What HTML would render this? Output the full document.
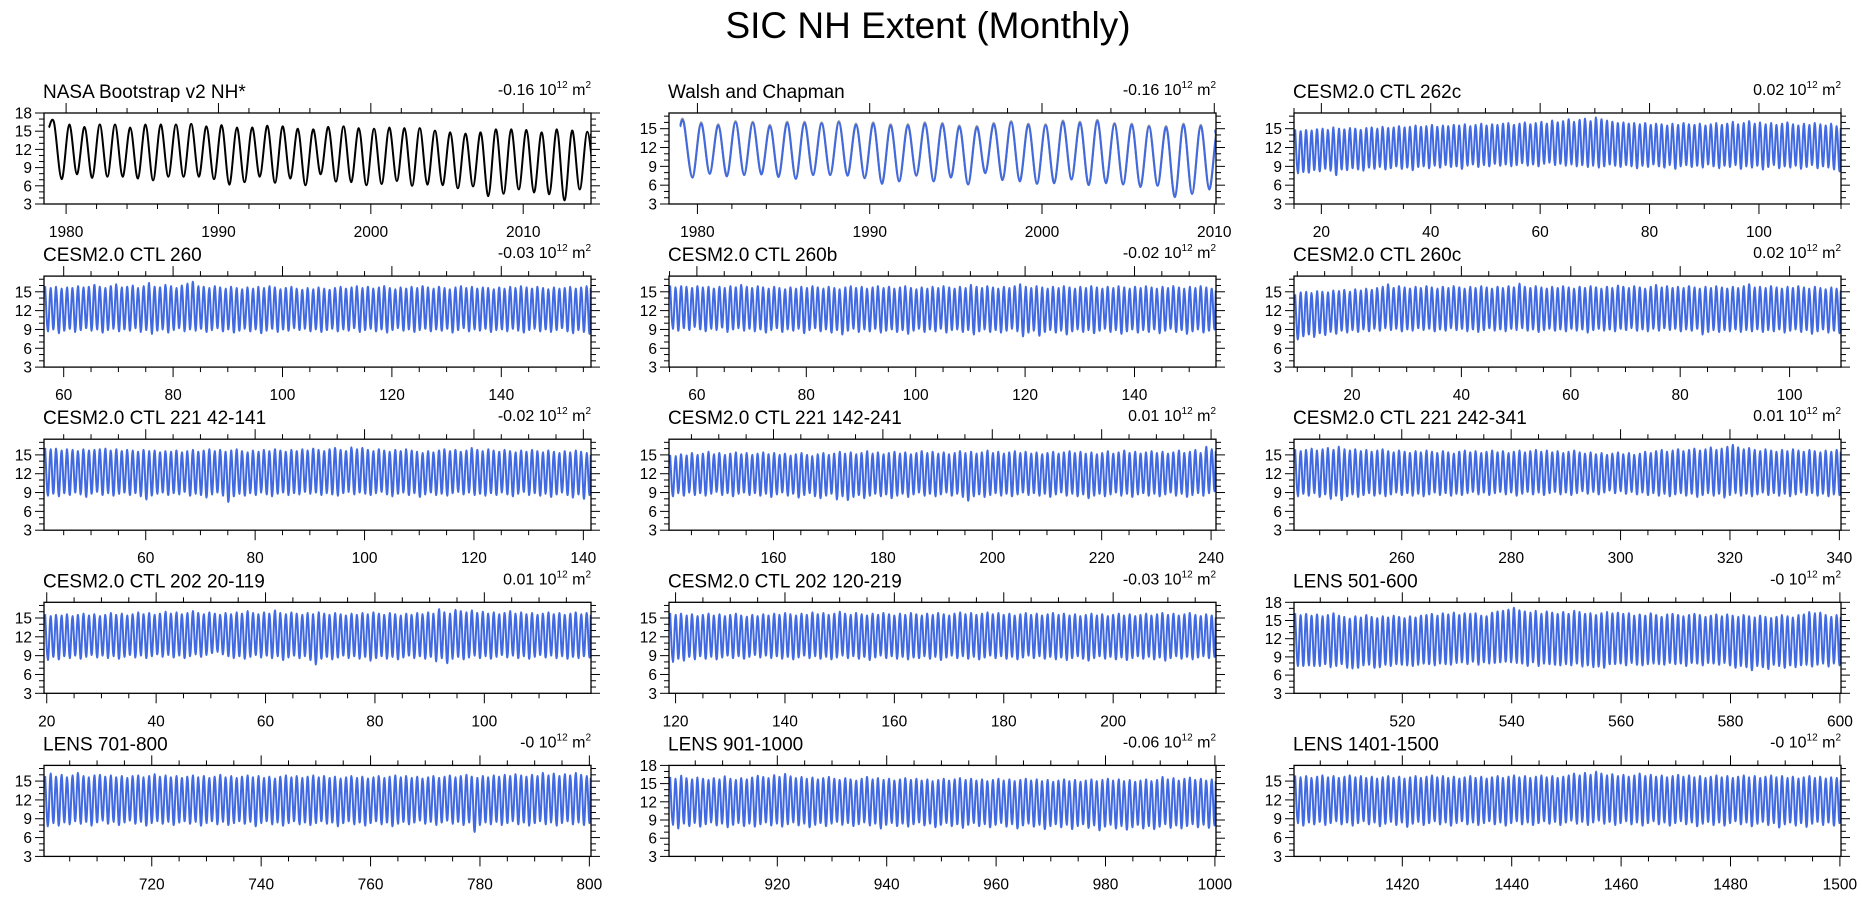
<!DOCTYPE html>
<html><head><meta charset="utf-8"><title>SIC NH Extent (Monthly)</title>
<style>
html,body{margin:0;padding:0;background:#fff;}
svg{display:block;font-family:"Liberation Sans",Arial,sans-serif;}
</style></head>
<body>
<svg id="chart" width="1862" height="897" viewBox="0 0 1862 897" xmlns="http://www.w3.org/2000/svg">
<rect x="0" y="0" width="1862" height="897" fill="#fff"/>
<text x="928" y="38" text-anchor="middle" font-size="37" fill="#000">SIC NH Extent (Monthly)</text>
</svg>
<script>
// ---- Observations ----
const nasaYears = [1979,1980,1981,1982,1983,1984,1985,1986,1987,1988,1989,1990,1991,1992,1993,1994,1995,1996,1997,1998,1999,2000,2001,2002,2003,2004,2005,2006,2007,2008,2009,2010,2011,2012,2013,2014];
const nasaMax = [16.4,16.1,15.7,16.1,16.1,15.6,16.1,16.1,16.1,16.2,15.8,16.0,15.6,15.6,15.9,15.8,15.4,15.3,15.7,15.8,15.5,15.4,15.6,15.5,15.5,15.1,14.8,14.6,14.8,15.3,15.3,15.2,14.8,15.3,15.1,14.9];
const nasaMin = [7.1,7.9,7.3,7.5,7.5,7.2,6.9,7.5,7.5,7.5,7.1,6.2,6.6,7.5,6.5,7.2,6.1,7.9,6.7,6.6,6.1,6.3,6.8,6.0,6.2,6.1,5.6,5.9,4.3,4.7,5.4,4.9,4.6,3.6,5.4,5.3];
const wcYears = [1979,1980,1981,1982,1983,1984,1985,1986,1987,1988,1989,1990,1991,1992,1993,1994,1995,1996,1997,1998,1999,2000,2001,2002,2003,2004,2005,2006,2007,2008,2009,2010];
const wcMax = [15.9,15.8,15.5,16.0,15.9,15.4,15.9,15.9,15.8,16.0,15.6,15.8,15.5,15.5,15.8,15.7,15.3,15.2,15.7,16.0,15.6,15.5,16.1,15.9,16.2,15.7,15.6,15.3,15.2,15.6,15.4,15.0];
const wcMin = [7.2,7.8,7.4,7.6,7.7,7.3,7.0,7.6,7.6,7.5,7.1,6.2,6.6,7.5,6.6,7.2,6.1,7.9,6.8,6.6,6.2,6.3,6.9,6.0,6.3,6.1,5.7,5.9,4.1,4.6,5.3,4.8];
// ---- Model panels: annual max (March) and min (September), 100 years each ----
const c262cMax=[14.9,14.6,14.8,14.7,14.9,15.0,14.8,15.2,15.0,14.9,15.1,15.0,14.8,15.1,15.2,15.0,15.3,15.1,15.2,15.4,15.2,15.3,15.5,15.3,15.4,15.6,15.3,15.5,15.4,15.6,15.5,15.7,15.4,15.6,15.8,15.5,15.7,15.6,15.8,15.9,15.6,15.8,16.0,15.7,15.9,16.1,15.8,16.3,16.0,16.2,16.5,16.1,16.4,16.6,16.2,16.8,16.5,16.3,16.1,15.9,16.0,15.8,15.9,15.7,15.9,15.6,15.8,15.7,15.5,15.8,15.6,15.9,15.7,15.6,15.8,15.5,15.7,15.9,15.6,15.8,16.1,15.7,15.9,16.2,15.8,16.0,15.7,15.9,15.6,15.8,16.0,15.7,15.5,15.8,15.6,15.9,15.7,15.5,15.8,15.4];
const c262cMin=[7.9,8.1,8.0,8.4,8.2,8.6,8.3,7.6,8.5,8.4,8.7,8.5,8.3,8.8,8.6,8.9,8.5,8.7,9.0,8.6,8.8,8.4,8.9,9.0,8.7,9.1,8.8,9.2,8.9,9.0,8.6,9.1,9.3,8.9,9.2,9.0,9.4,9.1,9.3,9.0,9.2,9.5,9.1,9.3,9.0,9.4,9.6,9.2,9.4,9.1,9.3,9.0,9.2,8.9,9.1,8.8,9.0,9.3,9.1,8.9,9.2,9.0,8.7,9.1,8.9,9.3,9.0,8.8,9.2,8.6,9.0,9.2,8.9,9.1,8.8,9.3,9.0,8.7,9.1,8.9,9.2,8.6,9.0,8.8,9.1,8.5,8.9,9.2,8.7,9.0,8.8,9.1,8.6,8.9,9.2,8.7,9.0,8.8,8.5,8.2];
const c260Max=[15.9,15.6,15.8,15.5,15.7,15.6,15.9,15.7,15.8,16.1,15.8,15.6,15.9,16.2,15.7,15.8,16.0,15.6,15.9,16.4,15.8,15.7,16.1,15.9,15.6,16.0,16.3,16.6,15.9,15.8,15.6,15.9,15.7,15.5,15.8,15.6,15.4,15.7,15.5,15.8,15.6,15.9,15.7,15.4,15.6,15.8,15.5,15.3,15.6,15.4,15.7,15.5,15.3,15.6,15.8,15.5,15.7,15.9,15.6,15.8,15.5,15.7,15.9,15.6,15.4,15.7,15.5,15.8,15.6,15.9,15.7,15.5,15.8,15.6,15.4,15.7,15.9,15.6,15.8,15.5,15.7,15.6,15.4,15.7,15.5,15.8,15.6,15.9,15.7,15.5,15.8,15.6,15.4,15.7,15.5,15.6,15.8,15.5,15.7,15.9];
const c260Min=[8.7,9.0,8.4,8.8,9.1,8.6,8.9,9.2,8.8,9.0,8.5,8.9,9.1,8.7,9.0,8.8,9.2,8.6,8.9,8.3,8.8,9.0,8.5,8.9,9.2,8.7,9.0,8.8,9.1,8.6,8.9,9.2,8.7,9.0,8.5,8.8,9.1,8.7,9.0,8.4,8.8,9.1,8.6,9.0,8.8,9.2,8.9,9.1,8.7,9.0,8.6,8.9,9.1,8.7,9.0,8.8,9.2,8.6,8.9,9.1,8.7,9.0,8.5,8.9,9.2,8.8,9.0,8.6,8.9,9.1,8.7,9.0,8.8,9.1,8.5,8.9,9.2,8.7,9.0,8.8,9.1,8.6,8.9,9.0,8.7,9.1,8.8,8.5,8.9,9.1,8.7,9.0,8.6,8.9,9.2,8.7,8.4,8.9,8.6,8.3];
const c260bMax=[16.0,15.7,15.9,15.8,15.6,15.9,15.7,15.8,15.5,15.8,15.6,15.9,15.7,16.1,15.8,15.6,15.9,15.7,15.5,15.8,15.6,15.4,15.7,15.5,15.8,15.6,15.9,15.7,15.5,15.8,15.6,15.4,15.7,15.9,15.6,15.8,15.5,15.7,15.9,15.6,15.8,15.5,15.7,15.9,15.6,15.4,15.7,15.5,15.8,15.6,15.9,15.7,15.5,15.8,15.6,16.1,15.8,15.6,15.9,15.7,15.5,15.8,15.6,15.9,16.2,15.8,15.6,15.9,15.7,15.5,15.8,15.6,15.9,15.7,15.5,15.8,15.6,15.9,15.7,15.5,15.8,15.6,15.9,15.7,15.5,15.8,15.6,15.9,15.7,15.5,15.8,15.6,15.9,15.7,15.5,15.8,15.6,15.9,15.7,15.5];
const c260bMin=[9.1,8.8,9.2,8.9,9.4,9.0,8.7,9.1,8.9,9.3,8.6,9.0,9.2,8.8,9.1,8.7,9.0,8.5,8.9,9.2,8.6,9.0,8.8,9.1,8.4,8.9,9.2,8.7,9.0,8.5,8.9,8.2,8.8,9.1,8.6,9.0,8.7,9.1,8.5,8.8,9.0,8.6,8.9,8.3,8.8,9.1,8.6,9.0,8.7,9.1,8.5,8.9,9.0,8.6,8.9,8.2,8.7,9.0,8.6,8.9,8.5,8.8,9.1,8.7,7.9,8.5,8.8,8.0,8.6,8.9,8.5,8.8,8.2,8.7,9.0,8.6,8.9,8.4,8.8,9.1,8.6,8.9,8.3,8.7,9.0,8.5,8.9,8.6,9.0,8.4,8.8,9.1,8.6,8.9,8.3,8.7,9.0,8.5,8.8,9.0];
const c260cMax=[14.6,14.9,15.0,14.8,15.1,15.0,14.9,15.2,15.1,15.3,15.0,15.4,15.2,15.5,15.3,15.6,15.8,16.2,15.6,15.9,15.7,15.5,15.8,15.6,15.9,15.7,15.5,15.8,15.6,15.9,15.7,15.5,15.8,15.6,15.9,15.7,15.5,15.8,15.6,15.9,15.7,16.3,15.8,15.6,15.9,15.7,15.5,15.8,15.6,15.9,15.7,15.5,15.8,15.6,15.9,15.7,15.5,15.8,15.6,16.0,15.8,15.6,15.9,15.7,15.5,15.8,16.1,15.7,15.9,15.6,15.8,15.6,15.9,15.7,15.5,15.8,15.6,15.9,15.7,15.5,15.8,15.6,15.9,16.2,15.7,15.8,15.6,15.9,15.7,15.5,15.8,15.6,15.9,15.7,15.5,15.8,15.6,15.4,15.7,15.5];
const c260cMin=[7.4,7.9,8.2,7.8,8.4,8.1,8.6,8.3,8.8,8.5,8.9,8.6,9.0,8.7,9.1,8.8,9.2,8.9,9.1,8.7,9.0,8.8,9.2,8.9,9.1,8.7,9.0,8.8,9.2,8.9,9.1,8.7,9.0,8.6,8.9,9.2,8.8,9.0,8.7,9.1,8.9,9.2,8.8,9.0,8.6,8.9,9.1,8.8,9.0,8.7,9.1,8.8,9.0,8.5,8.9,9.1,8.8,9.0,8.7,9.1,8.9,9.2,8.8,9.0,8.7,9.1,8.8,9.2,8.9,9.1,8.7,9.0,8.8,9.1,8.2,8.6,8.9,8.6,8.9,8.7,9.0,8.6,8.9,8.7,9.0,8.6,8.9,8.7,9.0,8.5,8.8,9.0,8.6,8.9,8.3,8.7,9.0,8.5,8.8,8.4];
const c221aMax=[16.1,15.9,16.0,15.7,15.9,15.8,15.6,15.9,15.7,15.8,15.9,16.0,15.7,15.9,15.6,15.8,15.7,15.5,15.8,15.6,15.7,15.4,15.6,15.5,15.7,15.4,15.6,15.8,15.5,15.7,15.9,15.6,15.8,15.5,15.7,15.9,15.6,15.4,15.7,15.5,15.8,15.6,15.9,15.7,15.5,15.8,15.6,15.9,15.7,16.0,15.8,15.6,15.9,16.1,15.8,15.6,16.2,15.9,16.1,15.8,15.6,15.9,15.7,15.5,15.8,15.6,15.9,15.7,15.5,15.3,15.6,15.4,15.7,15.9,15.6,15.8,15.5,15.7,16.1,15.8,15.6,15.9,15.7,15.5,15.8,15.6,15.4,15.7,15.5,15.8,15.6,15.4,15.7,15.5,15.3,15.6,15.4,15.7,15.5,15.3];
const c221aMin=[8.5,8.8,8.4,8.9,8.6,9.0,8.7,8.3,8.8,9.1,8.6,8.9,8.5,8.8,9.0,8.6,8.9,8.4,7.9,8.5,8.8,9.0,8.6,8.9,8.7,9.1,8.5,8.8,8.6,8.2,8.7,9.0,8.5,7.5,8.4,8.8,8.5,8.9,8.6,9.0,8.7,8.4,8.8,9.0,8.6,8.9,8.7,9.1,8.8,9.0,8.6,8.9,8.7,8.5,8.9,9.1,8.7,9.0,8.8,8.6,8.9,9.1,8.7,8.4,8.8,9.0,8.6,8.9,8.3,8.7,9.0,8.6,8.8,8.5,8.9,9.1,8.7,9.0,8.6,8.8,8.5,8.9,8.6,9.0,8.7,8.4,8.8,9.1,8.6,8.9,8.5,8.8,8.3,8.7,9.0,8.6,8.2,8.7,8.0,8.6];
const c221bMax=[15.0,14.8,15.1,14.9,15.3,15.0,15.2,15.5,15.1,15.3,15.0,15.2,15.4,15.1,15.3,15.0,15.2,15.4,15.1,15.3,15.0,15.2,14.9,15.1,15.3,15.0,14.8,15.1,15.3,15.0,15.2,15.5,15.2,15.4,15.1,15.3,15.6,15.2,15.4,15.1,15.3,15.5,15.2,15.4,15.1,15.3,15.6,15.3,15.5,15.2,15.4,15.1,15.3,15.6,15.3,15.5,15.2,15.4,15.7,15.3,15.5,15.2,15.4,15.6,15.3,15.5,15.2,15.4,15.1,15.3,15.5,15.2,15.4,15.6,15.3,15.5,15.2,15.4,15.1,15.3,15.6,15.2,15.4,15.7,15.3,15.5,15.2,15.4,15.6,15.3,15.5,15.2,15.4,15.7,15.3,15.5,15.8,15.3,16.3,15.9];
const c221bMin=[8.4,8.9,8.5,9.0,8.6,8.9,8.5,8.8,9.1,8.6,8.9,8.4,8.8,9.0,8.6,8.9,8.5,8.8,8.3,8.7,9.0,8.5,8.8,8.2,8.6,8.9,8.4,8.1,8.5,8.8,7.9,8.4,7.8,8.3,8.6,8.1,8.5,8.8,8.4,8.7,8.1,8.5,8.8,8.3,8.7,9.0,8.5,8.8,8.4,8.7,9.0,8.5,8.8,8.3,7.7,8.4,8.7,8.3,8.6,8.9,8.5,8.8,8.4,8.7,9.0,8.6,8.9,8.5,8.8,8.3,8.7,9.0,8.5,8.8,8.4,8.7,8.1,8.5,8.8,8.4,8.7,9.0,8.5,8.8,8.3,8.7,8.9,8.5,8.8,8.4,8.7,9.0,8.5,8.8,8.3,8.6,8.9,8.5,8.9,9.2];
const c221cMax=[15.9,15.6,15.8,16.0,15.7,15.9,16.1,15.8,16.3,15.9,15.7,15.9,15.6,15.8,15.5,15.7,15.9,15.6,15.4,15.7,15.5,15.3,15.6,15.4,15.7,15.5,15.3,15.6,15.4,15.2,15.5,15.7,15.4,15.6,15.3,15.5,15.7,15.4,15.6,15.3,15.5,15.7,15.4,15.6,15.8,15.5,15.7,15.4,15.6,15.3,15.5,15.7,15.4,15.2,15.4,15.1,15.3,15.0,15.2,15.4,15.1,15.3,15.0,15.2,15.5,15.3,15.6,15.8,15.5,15.7,15.9,15.6,15.8,16.0,15.7,15.9,16.2,15.8,16.0,16.3,16.6,16.2,15.9,16.1,15.8,15.6,15.9,15.7,15.5,15.8,15.6,15.9,15.7,15.5,15.8,15.6,15.4,15.7,15.5,15.8];
const c221cMin=[8.4,8.8,8.5,8.9,8.3,8.7,8.0,8.5,7.8,8.4,8.7,8.3,8.6,8.9,8.5,8.8,8.4,8.7,9.0,8.6,8.9,8.5,8.8,8.4,8.7,9.0,8.6,8.9,8.5,8.8,8.6,8.9,9.1,8.7,9.0,8.6,8.9,9.1,8.7,9.0,8.5,8.8,9.1,8.7,9.0,8.6,8.9,9.1,8.7,9.0,8.6,8.9,9.2,8.8,9.1,8.7,9.0,9.3,8.9,9.2,8.8,9.1,8.7,9.0,8.6,8.9,8.5,8.8,8.4,8.7,8.9,8.5,8.8,8.3,8.6,8.9,8.5,8.8,8.2,8.6,8.9,8.5,8.8,8.4,8.7,9.0,8.6,8.9,8.5,8.8,8.4,8.7,9.0,8.6,8.9,8.5,8.8,8.4,8.7,8.6];
const c202aMax=[15.6,15.3,15.5,15.4,15.6,15.3,15.5,15.7,15.4,15.6,15.3,15.5,15.8,15.5,15.7,15.4,15.6,15.9,15.6,15.8,15.5,15.7,16.0,15.7,15.9,15.6,15.8,16.1,15.8,15.6,15.9,15.7,15.5,15.8,15.6,15.9,15.7,16.1,15.8,15.6,15.9,15.7,16.2,15.8,15.6,15.9,15.7,15.5,15.8,15.6,15.9,15.7,15.5,15.8,15.6,15.4,15.7,15.5,15.8,15.6,15.9,15.7,15.5,15.8,15.6,15.4,15.7,15.5,15.8,15.6,15.9,15.7,16.4,15.9,15.7,16.3,16.1,15.9,16.2,15.8,16.0,15.7,15.9,15.6,15.8,16.1,15.7,15.9,15.6,15.8,15.5,15.7,15.9,15.6,15.8,15.5,15.7,15.9,15.6,15.8];
const c202aMin=[8.3,8.8,8.4,8.9,8.6,9.0,8.5,8.8,9.1,8.7,9.0,8.6,8.9,8.5,8.8,9.1,8.7,9.0,8.6,8.9,9.2,8.8,9.1,8.7,9.0,8.6,8.9,9.2,8.8,9.1,9.4,9.6,9.2,8.9,8.6,8.9,8.5,8.8,9.1,8.7,9.0,8.6,8.9,8.3,8.7,9.0,8.6,8.9,8.3,7.6,8.5,8.8,8.4,8.7,9.0,8.6,8.9,8.5,8.8,8.2,8.6,8.9,8.5,8.8,8.4,8.7,9.0,8.6,8.9,8.5,8.8,8.1,8.6,7.8,8.5,8.8,8.4,8.7,9.0,8.6,8.9,8.5,8.8,9.1,8.7,9.0,8.6,8.9,8.5,8.8,9.1,8.7,9.0,8.6,8.9,8.5,8.8,8.6,8.9,8.7];
const c202bMax=[15.8,15.5,15.7,15.4,15.6,15.3,15.5,15.7,15.4,15.6,15.3,15.5,15.7,15.4,15.2,15.5,15.3,15.6,15.4,15.7,15.5,15.8,15.6,15.4,15.7,15.5,15.9,15.6,15.8,15.5,15.7,16.0,15.7,15.5,15.8,15.6,15.4,15.7,15.5,15.8,15.6,15.4,15.7,15.5,15.8,15.6,15.4,15.7,15.5,15.8,15.6,15.4,15.7,15.9,15.6,15.8,15.5,15.7,15.9,15.6,15.8,15.5,15.7,15.4,15.6,15.8,15.5,15.7,15.4,15.6,15.8,15.5,15.7,15.4,15.6,15.3,15.5,15.7,15.4,15.6,15.3,15.5,15.7,15.4,15.6,15.3,15.5,15.7,15.4,15.6,15.8,15.5,15.7,15.4,15.6,15.8,15.5,15.3,15.6,15.4];
const c202bMin=[8.0,8.5,8.2,8.8,8.4,8.9,8.5,8.8,8.4,8.7,9.0,8.6,8.9,8.5,8.8,9.1,8.7,9.0,8.6,8.9,8.5,8.8,8.4,8.7,9.0,8.6,8.9,8.5,8.8,8.4,8.7,9.0,8.6,8.9,8.5,8.8,8.3,8.7,9.0,8.6,8.9,8.5,8.8,8.4,8.7,8.6,8.9,8.5,8.8,8.3,8.7,9.0,8.6,8.9,8.5,8.8,8.4,8.7,9.0,8.6,8.9,8.5,8.8,8.4,8.7,9.0,8.6,8.9,8.5,8.8,8.4,8.7,8.3,8.6,8.9,8.5,8.2,8.6,8.9,8.5,8.8,8.4,8.7,8.3,8.6,8.9,8.5,8.8,8.4,8.7,8.2,8.6,8.9,8.5,8.8,8.4,8.7,8.9,8.6,8.8];
const l501Max=[16.2,15.9,16.1,15.8,16.0,15.7,15.9,16.2,15.8,15.6,15.3,15.7,15.5,15.9,15.6,15.4,15.7,15.5,15.8,15.6,15.4,15.7,15.5,15.8,15.9,16.1,15.8,16.2,16.0,16.3,15.9,16.2,16.1,16.2,15.8,15.7,16.3,16.5,16.6,16.8,17.1,16.7,16.5,16.3,16.6,16.1,16.5,16.3,16.1,16.4,16.1,16.6,16.4,16.1,16.2,15.9,16.2,16.4,16.2,16.3,16.1,16.2,15.8,16.0,15.8,16.2,15.9,15.6,16.0,16.1,15.9,15.7,15.9,16.1,15.9,15.6,15.8,16.0,15.7,16.0,15.8,15.6,15.9,15.7,15.5,15.8,15.6,15.4,15.6,15.9,15.7,15.5,15.9,16.0,16.4,16.2,16.3,15.9,15.6,15.9];
const l501Min=[7.5,7.5,7.6,7.5,7.5,7.8,7.3,7.5,7.8,7.2,7.1,7.2,7.6,7.7,7.2,7.3,7.7,7.5,7.8,7.7,7.6,7.5,7.7,7.9,7.8,7.6,7.9,7.8,7.7,8.0,8.1,7.8,8.2,7.7,8.1,7.9,8.0,8.1,8.2,8.1,8.0,7.9,7.5,8.1,7.5,7.9,7.8,7.7,7.6,7.8,7.6,7.9,7.4,7.6,7.3,7.4,7.2,7.8,7.8,7.9,7.6,8.0,7.7,7.6,7.8,7.9,7.8,7.7,8.0,7.8,7.9,7.5,8.0,7.9,7.6,8.0,7.9,7.7,8.0,7.6,7.2,7.5,7.3,6.8,7.5,7.3,7.0,7.7,7.5,7.2,7.6,7.3,7.6,7.7,7.4,7.7,7.9,7.4,7.9,7.6];
const l701Max=[15.8,16.2,15.7,16.0,15.6,15.9,16.3,15.8,15.6,15.9,16.0,15.7,15.9,15.6,15.8,15.5,15.8,15.9,15.6,15.8,16.1,15.7,15.9,15.6,15.8,15.5,15.7,15.9,15.6,15.8,15.5,15.7,16.0,15.6,15.8,15.5,15.7,15.9,15.6,15.8,15.5,15.7,15.4,15.7,15.9,15.6,15.8,15.5,15.7,15.9,15.6,15.8,15.5,15.7,15.4,15.6,15.8,15.5,15.7,15.4,15.6,15.8,15.5,15.7,15.9,15.6,15.8,15.5,15.7,15.4,15.6,15.8,15.5,15.7,15.9,15.6,15.8,16.0,15.7,15.5,15.8,15.6,15.9,15.7,16.0,15.8,16.1,15.9,15.7,16.0,15.8,16.3,15.9,16.2,15.8,16.1,15.9,16.3,16.0,15.8];
const l701Min=[7.8,8.3,7.9,8.4,8.1,8.6,8.2,8.5,7.9,8.4,8.7,8.2,8.5,8.0,8.4,8.7,8.2,8.5,7.9,8.3,8.6,8.2,8.5,8.0,8.4,8.6,8.2,8.5,7.9,8.3,8.6,8.1,8.5,8.0,8.3,8.6,8.2,8.5,7.8,8.3,8.6,8.1,8.4,7.9,8.3,8.6,8.1,8.4,8.0,8.3,8.6,8.2,8.4,7.8,8.3,8.6,8.1,8.4,7.9,8.3,8.6,8.1,8.4,7.8,8.2,8.5,8.1,8.4,8.7,8.2,8.5,8.0,8.4,8.7,8.2,8.5,8.0,8.4,6.9,8.0,8.4,8.1,8.5,8.0,8.3,8.6,8.1,8.4,7.9,8.3,8.6,8.1,8.4,7.9,8.3,8.6,8.1,8.4,8.0,8.3];
const l901Max=[16.1,15.8,16.3,15.9,15.7,16.0,15.8,15.6,15.9,15.7,16.2,15.8,15.6,15.9,15.7,16.0,16.3,16.1,15.9,16.4,16.1,16.6,16.2,15.9,16.1,15.8,16.0,15.7,15.9,16.1,15.8,15.6,15.9,15.7,15.5,15.8,16.1,15.7,15.9,15.6,15.8,15.5,15.7,15.9,15.6,15.8,15.5,15.7,15.4,15.6,15.8,15.5,15.7,15.9,15.6,15.8,15.5,15.7,15.4,15.6,15.8,15.5,15.7,15.4,15.6,15.8,15.5,15.7,15.4,15.6,15.3,15.5,15.7,15.4,15.6,15.3,15.5,15.7,15.4,15.6,15.8,15.5,15.7,15.4,15.6,15.3,15.5,15.7,15.4,15.6,16.1,15.7,15.9,15.5,15.8,16.0,15.6,15.8,15.5,15.7];
const l901Min=[8.2,7.6,8.4,8.0,8.5,7.9,8.3,8.6,8.1,8.4,7.8,8.2,8.5,8.0,8.4,7.9,8.3,8.6,8.1,8.4,7.9,8.3,8.6,8.1,8.4,7.8,8.2,8.5,8.0,8.4,8.7,8.2,8.5,8.0,8.3,8.6,8.1,8.4,7.6,8.2,8.5,8.0,8.4,7.9,8.3,8.6,8.1,8.4,7.8,8.2,8.5,8.0,8.3,7.7,8.2,8.5,8.0,8.3,7.8,8.2,8.5,7.9,8.3,7.6,8.1,8.4,7.9,8.2,7.5,8.0,8.3,7.8,8.2,7.5,8.0,8.3,7.7,8.1,7.3,7.9,8.2,7.6,8.0,7.4,7.8,8.2,7.6,8.0,7.5,7.9,8.3,7.7,8.1,7.6,8.0,8.3,7.8,8.2,7.7,8.1];
const l1401Max=[15.9,15.6,15.8,15.5,15.7,15.9,15.6,15.8,15.5,15.7,15.9,15.6,15.8,15.5,15.7,15.4,15.6,15.8,15.5,15.7,15.4,15.6,15.8,15.5,15.7,15.9,15.6,15.8,15.5,15.7,15.4,15.6,15.8,15.5,15.7,15.4,15.6,15.8,15.5,15.7,15.9,15.6,15.8,15.5,15.7,15.9,15.6,15.8,15.5,15.7,15.9,16.2,15.9,16.3,16.0,16.5,16.2,15.9,16.1,15.8,16.0,15.7,15.9,16.2,15.8,16.0,15.7,15.9,15.6,15.8,16.0,15.7,15.9,15.6,15.8,15.5,15.7,15.9,15.6,15.8,15.5,15.7,15.9,15.6,15.8,15.5,15.7,15.9,15.6,15.8,15.5,15.7,15.4,15.6,15.8,15.5,15.7,15.4,15.6,15.5];
const l1401Min=[8.3,7.9,8.4,8.1,8.5,8.0,8.3,8.6,8.1,8.4,7.9,8.3,8.6,8.1,8.4,7.8,8.2,8.5,8.0,8.4,7.7,8.2,8.5,8.0,8.3,8.6,8.1,8.4,7.9,8.3,8.6,8.1,8.4,8.0,8.3,8.6,8.1,8.4,7.9,8.3,8.6,8.1,8.4,8.0,8.3,8.6,8.2,8.5,8.0,8.4,8.7,8.2,8.5,8.0,8.4,8.7,8.2,8.5,8.0,8.3,8.6,8.1,8.4,7.9,8.3,8.6,8.1,8.4,7.9,8.3,8.6,8.1,8.4,7.8,8.2,8.5,8.0,8.4,7.9,8.3,8.6,8.1,8.4,7.8,8.2,8.5,8.0,8.3,7.6,8.1,8.4,7.9,8.3,7.7,8.2,8.5,8.0,8.4,7.9,8.3];

const titles = ["NASA Bootstrap v2 NH*","Walsh and Chapman","CESM2.0 CTL 262c","CESM2.0 CTL 260","CESM2.0 CTL 260b","CESM2.0 CTL 260c","CESM2.0 CTL 221 42-141","CESM2.0 CTL 221 142-241","CESM2.0 CTL 221 242-341","CESM2.0 CTL 202 20-119","CESM2.0 CTL 202 120-219","LENS 501-600","LENS 701-800","LENS 901-1000","LENS 1401-1500"];
const trends = ["-0.16","-0.16","0.02","-0.03","-0.02","0.02","-0.02","0.01","0.01","0.01","-0.03","-0","-0","-0.06","-0"];
const modelStarts = [15,56.4,54.9,9.4,41.4,140.9,240.3,19.5,118.8,500.2,700.3,900.2,1400.2];
const modelMax = [c262cMax,c260Max,c260bMax,c260cMax,c221aMax,c221bMax,c221cMax,c202aMax,c202bMax,l501Max,l701Max,l901Max,l1401Max];
const modelMin = [c262cMin,c260Min,c260bMin,c260cMin,c221aMin,c221bMin,c221cMin,c202aMin,c202bMin,l501Min,l701Min,l901Min,l1401Min];
const yTop18 = [0,11,13];
const yTicks = [3,6,9,12,15,18];

const NS = "http://www.w3.org/2000/svg";
const svg = document.getElementById('chart');
function mk(tag, attrs, parent){ const e=document.createElementNS(NS,tag); for(const k in attrs) e.setAttribute(k,attrs[k]); (parent||svg).appendChild(e); return e; }

function smoothPath(pts){
  let d = "M"+pts[0][0].toFixed(2)+","+pts[0][1].toFixed(2);
  for(let i=0;i<pts.length-1;i++){
    const p0=pts[Math.max(i-1,0)], p1=pts[i], p2=pts[i+1], p3=pts[Math.min(i+2,pts.length-1)];
    const c1x=p1[0]+(p2[0]-p0[0])/6, c1y=p1[1]+(p2[1]-p0[1])/6;
    const c2x=p2[0]-(p3[0]-p1[0])/6, c2y=p2[1]-(p3[1]-p1[1])/6;
    d+="C"+c1x.toFixed(2)+","+c1y.toFixed(2)+" "+c2x.toFixed(2)+","+c2y.toFixed(2)+" "+p2[0].toFixed(2)+","+p2[1].toFixed(2);
  }
  return d;
}

const PW=547, PH=91, ROWP=163.1;
for(let i=0;i<15;i++){
  const col=i%3, row=Math.floor(i/3);
  const L=44+col*625, T=113+row*ROWP, R=L+PW, B=T+PH;
  let xmin,xmax,major,minor,years,mx,mn,color;
  if(i===0){xmin=1978.55;xmax=2014.45;major=10;minor=2;years=nasaYears;mx=nasaMax;mn=nasaMin;color="#000";}
  else if(i===1){xmin=1978.35;xmax=2010.1;major=10;minor=2;years=wcYears;mx=wcMax;mn=wcMin;color="#4169e1";}
  else {const k=i-2; xmin=modelStarts[k]; xmax=xmin+100; major=20; minor=5; mx=modelMax[k]; mn=modelMin[k]; years=mx.map((v,j)=>Math.floor(xmin)+j); color="#4169e1";}
  const ymin=3, ymax = yTop18.includes(i)?18:17.5;
  const xs=v=>L+(v-xmin)/(xmax-xmin)*PW;
  const ys=v=>B-(v-ymin)/(ymax-ymin)*PH;
  const g=mk('g',{});
  
  
  const tt=mk('text',{x:L-1,y:T-15,'font-size':19,fill:'#000'},g); tt.textContent=titles[i];
  
  
  const st=mk('text',{x:R,y:T-18,'font-size':16,'text-anchor':'end',fill:'#000'},g);
  
  
  const a=mk('tspan',{},st); a.textContent=trends[i]+" 10";
  const b=mk('tspan',{dy:-7,'font-size':10},st); b.textContent="12";
  const c=mk('tspan',{dy:7},st); c.textContent=" m";
  const d=mk('tspan',{dy:-7,'font-size':10},st); d.textContent="2";
  const pts=[];
  if(i===0) pts.push([xs(1978.87),ys(15.6)]);
  if(i===1) pts.push([xs(1979.0),ys(15.3)]);
  for(let j=0;j<years.length;j++){
    const y0 = (i<2)?years[j]:xmin+j;
    pts.push([xs(y0+0.21),ys(mx[j])]);
    pts.push([xs(y0+0.71),ys(mn[j])]);
  }
  const endX=(i===0)?2014.45:(i===1?2010.05:xmax-0.04);
  const lastMax = mx[mx.length-1];
  pts.push([xs(endX),ys(lastMax-0.3)]);
  const clipId='clip'+i;
  const cp=mk('clipPath',{id:clipId},g); mk('rect',{x:L,y:T,width:PW,height:PH},cp);
  if(i===1){
    const sh=mk('path',{d:smoothPath(pts.map(p=>[p[0],p[1]-1.2])),fill:'none',stroke:'#999','stroke-width':2.2,'clip-path':'url(#'+clipId+')'},g);
    
    
  }
  const ln=mk('path',{d:smoothPath(pts),fill:'none',stroke:color,'stroke-width':2,'stroke-linejoin':'round','clip-path':'url(#'+clipId+')'},g);
  
  
  const fr=mk('rect',{x:L,y:T,width:PW,height:PH,fill:'none',stroke:'#000','stroke-width':1.3},g);
  
  
  for(let v=ymin; v<=ymax+1e-6; v+=1){
    const isMaj = yTicks.includes(v);
    const len = isMaj?9:5, yy=ys(v);
    mk('line',{x1:L-len,y1:yy,x2:L,y2:yy,stroke:'#000','stroke-width':1},g);
    mk('line',{x1:R,y1:yy,x2:R+len,y2:yy,stroke:'#000','stroke-width':1},g);
    if(isMaj){
      const yl=mk('text',{x:L-12,y:yy+5.5,'font-size':15.5,'text-anchor':'end',fill:'#000'},g);
      yl.textContent=v;
      
      
    }
  }
  const start=Math.ceil(xmin/minor)*minor;
  for(let v=start; v<=xmax+1e-6; v+=minor){
    const isMaj = Math.abs(v/major-Math.round(v/major))<1e-6;
    const len=isMaj?10:5, xx=xs(v);
    mk('line',{x1:xx,y1:B,x2:xx,y2:B+len,stroke:'#000','stroke-width':1},g);
    mk('line',{x1:xx,y1:T-len,x2:xx,y2:T,stroke:'#000','stroke-width':1},g);
    if(isMaj){
      const xl=mk('text',{x:xx,y:B+33,'font-size':15.5,'text-anchor':'middle',fill:'#000'},g);
      xl.textContent=v;
      
      
    }
  }
}
</script>
</body></html>
